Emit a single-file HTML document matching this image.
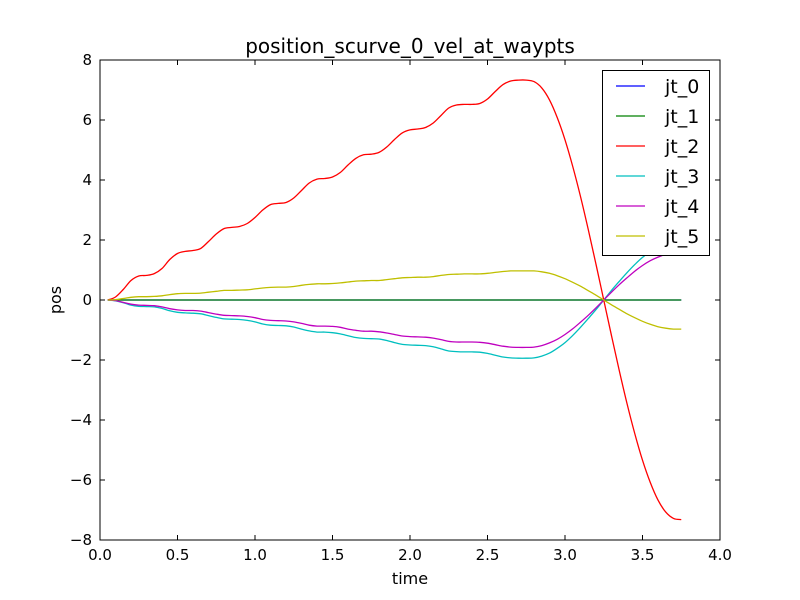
<!DOCTYPE html>
<html><head><meta charset="utf-8"><style>
html,body{margin:0;padding:0;background:#fff;}
svg{display:block;font-family:"DejaVu Sans","Liberation Sans",sans-serif;}
</style></head><body>
<svg id="chart" width="800" height="600" viewBox="0 0 800 600">
<rect x="0" y="0" width="800" height="600" fill="#fff"/>
<g id="plot"></g>
</svg>
<script>
const times = [];
for (let i = 1; i <= 75; i++) times.push(Math.round(i * 5) / 100);
const jt0 = new Array(75).fill(0);
const jt1 = new Array(75).fill(0);
const jt2 = [0,0.1,0.35,0.65,0.8,0.82,0.88,1.05,1.35,1.55,
1.62,1.65,1.72,1.95,2.2,2.38,2.42,2.45,2.55,2.75,
3.0,3.18,3.22,3.25,3.4,3.65,3.9,4.03,4.05,4.1,
4.25,4.5,4.72,4.84,4.86,4.92,5.1,5.35,5.57,5.67,
5.7,5.75,5.9,6.15,6.4,6.5,6.52,
6.52,6.55,6.7,6.95,7.18,7.3,7.33,7.33,
7.28,7.07,6.67,6.08,5.34,4.45,3.45,2.35,1.19,0,
-1.19,-2.35,-3.45,-4.45,-5.34,-6.08,-6.67,-7.07,-7.28,-7.32];
const jt3 = [0,-0.03,-0.09,-0.17,-0.21,-0.22,-0.23,-0.28,-0.36,-0.41,
-0.43,-0.44,-0.46,-0.52,-0.58,-0.63,-0.64,-0.65,-0.68,-0.73,
-0.8,-0.84,-0.85,-0.86,-0.9,-0.97,-1.03,-1.07,-1.07,-1.09,
-1.13,-1.19,-1.25,-1.28,-1.29,-1.3,-1.35,-1.42,-1.48,-1.5,
-1.51,-1.52,-1.56,-1.63,-1.7,-1.72,-1.73,
-1.73,-1.74,-1.78,-1.84,-1.9,-1.93,-1.94,-1.94,
-1.93,-1.87,-1.77,-1.61,-1.42,-1.18,-0.91,-0.62,-0.32,0,
0.32,0.62,0.91,1.18,1.42,1.61,1.77,1.87,1.93,1.94];
const jt4 = [0,-0.02,-0.08,-0.14,-0.17,-0.18,-0.19,-0.23,-0.29,-0.33,
-0.35,-0.35,-0.37,-0.42,-0.47,-0.51,-0.52,-0.53,-0.55,-0.59,
-0.65,-0.68,-0.69,-0.7,-0.73,-0.78,-0.84,-0.87,-0.87,-0.88,
-0.91,-0.97,-1.01,-1.04,-1.04,-1.06,-1.1,-1.15,-1.2,-1.22,
-1.23,-1.24,-1.27,-1.32,-1.38,-1.4,-1.4,
-1.4,-1.41,-1.44,-1.49,-1.54,-1.57,-1.58,-1.58,
-1.57,-1.52,-1.43,-1.31,-1.15,-0.96,-0.74,-0.51,-0.26,0,
0.26,0.51,0.74,0.96,1.15,1.31,1.43,1.52,1.57,1.57];
const jt5 = [0,0.01,0.05,0.09,0.11,0.11,0.12,0.14,0.18,0.21,
0.22,0.22,0.23,0.26,0.29,0.32,0.32,0.33,0.34,0.37,
0.4,0.42,0.43,0.43,0.45,0.49,0.52,0.54,0.54,0.55,
0.57,0.6,0.63,0.64,0.65,0.65,0.68,0.71,0.74,0.75,
0.76,0.76,0.78,0.82,0.85,0.86,0.87,
0.87,0.87,0.89,0.92,0.95,0.97,0.97,0.97,
0.97,0.94,0.89,0.81,0.71,0.59,0.46,0.31,0.16,0,
-0.16,-0.31,-0.46,-0.59,-0.71,-0.81,-0.89,-0.94,-0.97,-0.97];
const seriesNames = ["jt_0","jt_1","jt_2","jt_3","jt_4","jt_5"];
const seriesColors = ["#0000ff","#008000","#ff0000","#00bfbf","#bf00bf","#bfbf00"];
const xTicks = [0,0.5,1,1.5,2,2.5,3,3.5,4];
const xTickLabels = ["0.0","0.5","1.0","1.5","2.0","2.5","3.0","3.5","4.0"];
const yTicks = [-8,-6,-4,-2,0,2,4,6,8];
const yTickLabels = ["\u22128","\u22126","\u22124","\u22122","0","2","4","6","8"];

const L=100,R=720,T=60,B=540;
const xs = v => L + (v-0)/(4-0)*(R-L);
const ys = v => B - (v+8)/16*(B-T);
const NS="http://www.w3.org/2000/svg";
const g=document.getElementById('plot');
function mk(tag,attrs,parent){const e=document.createElementNS(NS,tag);for(const k in attrs)e.setAttribute(k,attrs[k]);(parent||g).appendChild(e);return e;}

const clip=mk('clipPath',{id:'pc'});
mk('rect',{x:L,y:T,width:R-L,height:B-T},clip);

function smoothPath(px){
  let d='M'+px[0][0].toFixed(2)+' '+px[0][1].toFixed(2);
  for(let i=0;i<px.length-1;i++){
    const p0=px[Math.max(0,i-1)],p1=px[i],p2=px[i+1],p3=px[Math.min(px.length-1,i+2)];
    const c1x=p1[0]+(p2[0]-p0[0])/6,c1y=p1[1]+(p2[1]-p0[1])/6;
    const c2x=p2[0]-(p3[0]-p1[0])/6,c2y=p2[1]-(p3[1]-p1[1])/6;
    d+=' C'+c1x.toFixed(2)+' '+c1y.toFixed(2)+' '+c2x.toFixed(2)+' '+c2y.toFixed(2)+' '+p2[0].toFixed(2)+' '+p2[1].toFixed(2);
  }
  return d;
}

const allSeries=[jt0,jt1,jt2,jt3,jt4,jt5];
allSeries.forEach((s,si)=>{
  const px=s.map((v,i)=>[xs(times[i]),ys(v)]);
  const p=mk('path',{d:smoothPath(px),fill:'none',stroke:seriesColors[si],'stroke-width':1.3,'clip-path':'url(#pc)'});
  
  
});

const frame=mk('rect',{x:L,y:T,width:R-L,height:B-T,fill:'none',stroke:'#000','stroke-width':1});



xTicks.forEach((t,i)=>{
  const x=xs(t);
  mk('line',{x1:x,y1:B,x2:x,y2:B-5,stroke:'#000'});
  mk('line',{x1:x,y1:T,x2:x,y2:T+5,stroke:'#000'});
  const tx=mk('text',{x:x,y:B+20,'text-anchor':'middle','font-size':15});
  tx.textContent=xTickLabels[i];
  
  
});
yTicks.forEach((t,i)=>{
  const y=ys(t);
  mk('line',{x1:L,y1:y,x2:L+5,y2:y,stroke:'#000'});
  mk('line',{x1:R,y1:y,x2:R-5,y2:y,stroke:'#000'});
  const tx=mk('text',{x:L-8,y:y+5,'text-anchor':'end','font-size':15});
  tx.textContent=yTickLabels[i];
  
  
});

const title=mk('text',{x:410,y:53,'text-anchor':'middle','font-size':20});
title.textContent='position_scurve_0_vel_at_waypts';


const xl=mk('text',{x:410,y:584,'text-anchor':'middle','font-size':16});
xl.textContent='time';


const yl=mk('text',{x:61,y:300,'text-anchor':'middle','font-size':16,transform:'rotate(-90 61 300)'});
yl.textContent='pos';



const lg=mk('g',{});


mk('rect',{x:602.5,y:70.5,width:107,height:185,fill:'#fff',stroke:'#000','stroke-width':1},lg);
seriesNames.forEach((n,i)=>{
  const y=86+i*30;
  const e=mk('g',{},lg);
  
  
  mk('line',{x1:616,y1:y,x2:645,y2:y,stroke:seriesColors[i],'stroke-width':1.3},e);
  const t=mk('text',{x:665,y:y+7,'font-size':19},e);
  t.textContent=n;
});
</script>
</body></html>
